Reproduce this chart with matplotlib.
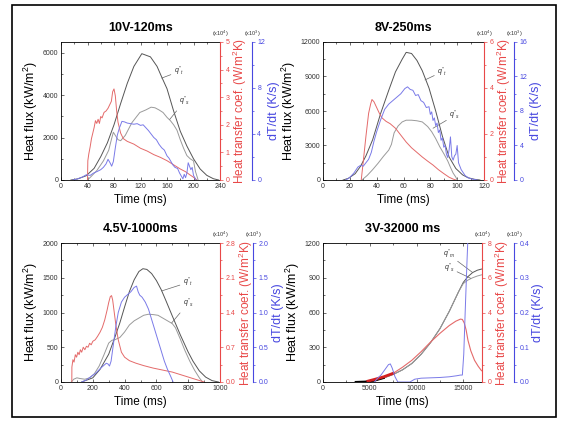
import matplotlib
matplotlib.use("Agg")
import matplotlib.pyplot as plt
from matplotlib.patches import Rectangle
from matplotlib.ticker import AutoMinorLocator

plt.rcParams["font.family"] = ["Liberation Sans", "DejaVu Sans"]
plt.rcParams["mathtext.fontset"] = "custom"
plt.rcParams["mathtext.rm"] = "Liberation Sans"
plt.rcParams["mathtext.it"] = "Liberation Sans:italic"

RED = "#e84848"
BLUE = "#4848e0"
C_RED = "#e46a6a"
C_BLUE = "#7a7ae8"
C_QT = "#555555"
C_QS = "#9a9a9a"

# ---- 10V-120ms ----
V10_QT_X = [15, 25, 38, 50, 60, 70, 80, 90, 100, 110, 122, 135, 145, 152, 160, 170, 180, 190, 200, 210, 220, 230, 238]
V10_QT_Y = [0, 50, 200, 550, 1100, 1750, 2600, 3600, 4550, 5350, 5950, 5800, 5350, 4850, 4300, 3250, 2300, 1600, 1000, 520, 220, 60, 0]
V10_QS_X = [40, 45, 54, 64, 72, 76, 79, 82, 86, 90, 97, 107, 119, 128, 136, 142, 148, 154, 160, 165, 170, 175, 180, 185, 190, 195, 200, 203, 207]
V10_QS_Y = [0, 150, 440, 900, 1400, 1900, 2250, 2100, 1900, 1850, 2100, 2700, 3180, 3300, 3430, 3400, 3300, 3180, 2950, 2800, 2600, 2350, 1900, 1500, 1150, 1000, 900, 400, 0]
V10_H_X = [40, 40.5, 42, 44, 46, 48, 50, 52, 54, 56, 58, 60, 62, 65, 68, 71, 74, 76, 78, 80, 82, 84, 86, 90, 94, 100, 110, 120, 130, 140, 150, 160, 170, 180, 188, 195, 200, 205]
V10_H_Y = [0, 0.7, 0.95, 1.2, 1.5, 1.7, 1.9, 2.15, 2.05, 2.2, 2.05, 2.3, 2.25, 2.45, 2.5, 2.6, 2.75, 2.85, 3.2, 3.3, 3.05, 2.5, 2.1, 1.7, 1.5, 1.4, 1.3, 1.15, 1.05, 0.92, 0.82, 0.7, 0.55, 0.4, 0.3, 0.18, 0.1, 0]
V10_B_X = [18, 25, 32, 38, 44, 49, 55, 60, 64, 68, 71, 74, 76.5, 79, 82, 85, 88, 92, 96, 100, 105, 110, 115, 120, 124, 128, 132, 136, 140, 144, 148, 152, 156, 160, 163, 166, 169, 172, 176, 179, 182, 184, 186, 188, 190, 192, 194, 196, 198, 200, 202, 204]
V10_B_Y = [0, 0.1, 0.25, 0.45, 0.4, 0.6, 0.75, 0.9, 1.1, 1.4, 1.8, 1.5, 1.2, 1.6, 2.8, 3.9, 4.5, 5.1, 5.05, 4.95, 4.9, 4.85, 4.9, 4.75, 4.8, 4.55, 4.3, 4.0, 3.7, 3.5, 3.1, 2.8, 2.6, 2.1, 1.9, 1.6, 1.3, 1.1, 1.0, 0.6, 0.3, 0.1, 0.5, 0.2, 0.6, 1.5, 1.2, 0.9, 1.1, 0.4, 0.2, 0]

# ---- 8V-250ms ----
V8_QT_X = [15, 19, 24, 28, 32, 37, 43, 49, 54, 59, 62, 66, 70, 74, 79, 84, 89, 94, 99, 104, 108, 113, 117]
V8_QT_Y = [0, 150, 550, 1200, 2100, 3500, 5800, 7800, 9400, 10500, 11100, 11000, 10400, 9500, 8000, 6000, 3800, 2000, 1000, 450, 200, 60, 0]
V8_QS_X = [29, 33, 37, 41, 45, 49, 51, 53, 56, 59, 62, 66, 70, 74, 78, 81, 84, 87, 90, 93, 95, 97, 99, 100]
V8_QS_Y = [0, 400, 900, 1450, 2050, 2600, 3100, 4100, 4700, 5050, 5200, 5200, 5150, 5050, 4650, 4200, 3600, 2900, 2300, 1650, 1100, 600, 250, 0]
V8_H_X = [28.5, 30, 32, 34, 35.5, 36.5, 38, 40, 42, 44, 47, 50, 54, 58, 62, 66, 70, 74, 78, 82, 86, 90, 94, 97, 99]
V8_H_Y = [0, 0.8, 1.9, 2.9, 3.3, 3.5, 3.4, 3.15, 2.9, 2.7, 2.55, 2.45, 2.25, 1.95, 1.65, 1.4, 1.2, 1.0, 0.82, 0.65, 0.45, 0.28, 0.12, 0.04, 0]
V8_B_X = [17, 20, 23, 26, 28, 30, 32, 34, 36, 38, 40, 43, 46, 49, 52, 55, 58, 61, 63, 65, 67, 69, 71, 73, 75, 77, 79, 80, 81, 82, 83, 84, 85, 86, 87, 88, 89, 90, 91, 92, 93, 94, 95, 96, 97, 98, 99, 100, 101, 103, 106, 109, 112, 115]
V8_B_Y = [0, 0.3, 0.8, 1.5, 1.7, 1.6, 2.0, 2.4, 3.2, 4.5, 5.6, 7.0, 8.2, 8.8, 9.2, 9.6, 10.0, 10.6, 10.8, 10.5, 10.4, 9.8, 9.9, 9.2, 9.0, 8.4, 8.5, 7.6, 7.9, 6.9, 7.2, 6.3, 6.6, 5.5, 5.8, 4.6, 4.9, 3.8, 4.0, 3.0, 2.6, 3.5, 5.0, 2.7, 2.3, 2.8, 3.0, 4.0, 2.0, 1.2, 0.5, 0.2, 0.08, 0]

# ---- 4.5V-1000ms ----
V45_QT_X = [130, 200, 245, 300, 340, 370, 400, 430, 460, 490, 515, 540, 570, 600, 630, 660, 700, 750, 800, 830, 870, 910, 950, 990]
V45_QT_Y = [0, 60, 180, 400, 650, 850, 1080, 1300, 1470, 1590, 1630, 1620, 1560, 1460, 1330, 1170, 950, 680, 430, 300, 160, 70, 20, 0]
V45_QS_X = [65, 80, 100, 120, 150, 180, 210, 240, 270, 300, 320, 340, 370, 400, 430, 460, 490, 520, 550, 580, 610, 640, 670, 700, 720, 750, 780, 810, 840, 870, 890]
V45_QS_Y = [0, 40, 60, 50, 40, 60, 120, 230, 390, 560, 600, 610, 640, 720, 820, 880, 920, 960, 975, 970, 960, 920, 880, 840, 780, 620, 450, 300, 170, 60, 0]
V45_H_X = [68, 68.5, 75, 82, 90, 98, 106, 114, 122, 130, 140, 150, 160, 170, 180, 190, 200, 215, 230, 245, 260, 275, 290, 300, 310, 318, 325, 335, 345, 360, 380, 400, 430, 470, 520, 580, 640, 700, 760, 820, 870, 900]
V45_H_Y = [0, 0.3, 0.45, 0.4, 0.55, 0.5, 0.6, 0.55, 0.65, 0.6, 0.7, 0.65, 0.72, 0.7, 0.78, 0.75, 0.82, 0.85, 0.92, 1.0, 1.1, 1.25, 1.45, 1.6, 1.72, 1.74, 1.65, 1.4, 1.15, 0.85, 0.6, 0.5, 0.43, 0.38, 0.33, 0.28, 0.24, 0.2, 0.14, 0.08, 0.03, 0]
V45_B_X = [130, 160, 190, 220, 250, 270, 285, 295, 305, 315, 330, 345, 360, 380, 400, 420, 440, 460, 475, 485, 495, 510, 530, 550, 570, 590, 610, 630, 650, 670, 690, 705]
V45_B_Y = [0, 0.03, 0.08, 0.13, 0.2, 0.24, 0.27, 0.26, 0.23, 0.3, 0.55, 0.8, 1.0, 1.15, 1.22, 1.26, 1.3, 1.36, 1.38, 1.3, 1.25, 1.22, 1.15, 1.05, 0.9, 0.75, 0.6, 0.45, 0.3, 0.18, 0.08, 0]

# ---- 3V-32000 ms ----
V3_QM_X = [3500, 4500, 5500, 6500, 7500, 8500, 9500, 10500, 11500, 12500, 13500, 14500, 15000, 15500, 16000, 16500, 16950]
V3_QM_Y = [0, 3, 12, 35, 65, 105, 160, 240, 340, 460, 610, 780, 860, 910, 945, 965, 975]
V3_QS_X = [3500, 4500, 5500, 6500, 7500, 8500, 9500, 10500, 11500, 12500, 13500, 14500, 15000, 15500, 16000, 16500, 16950]
V3_QS_Y = [0, 3, 12, 35, 65, 105, 160, 240, 340, 460, 610, 780, 850, 880, 900, 915, 925]
V3_H_X = [4800, 5500, 6500, 7500, 8500, 9500, 10500, 11500, 12500, 13500, 14200, 14700, 14900, 15100, 15300, 15500, 15800, 16200, 16600, 16950]
V3_H_Y = [0.05, 0.15, 0.3, 0.5, 0.85, 1.25, 1.75, 2.3, 2.8, 3.25, 3.5, 3.62, 3.6, 3.4, 3.0, 2.4, 1.8, 1.25, 0.9, 0.65]
V3_B_X = [5500, 5800, 6200, 6600, 7000, 7200, 7400, 7700, 8000, 8300, 9300, 9800, 10500, 11500, 12500, 13500, 14300, 14700, 14900, 15050, 15200, 15400, 15550]
V3_B_Y = [0, 0.01, 0.02, 0.035, 0.05, 0.052, 0.04, 0.015, 0.0, 0.0, 0.0, 0.008, 0.011, 0.012, 0.013, 0.015, 0.018, 0.02, 0.02, 0.08, 0.2, 0.35, 0.45]


def make_panel(fig, rect, title, xlim, xticks, ylim, yticks, hlim, hticks, hfmt,
               blim, bticks, bfmt, boff):
    ax = fig.add_axes(rect)
    ax.set_xlim(*xlim)
    ax.set_ylim(*ylim)
    ax.set_xticks(xticks)
    ax.set_yticks(yticks)
    ax.xaxis.set_minor_locator(AutoMinorLocator(2))
    ax.yaxis.set_minor_locator(AutoMinorLocator(2))
    ax.tick_params(which="both", direction="in", top=True, right=False,
                   labelsize=5, colors="#333333", pad=2)
    ax.tick_params(which="major", length=2.5, width=0.5)
    ax.tick_params(which="minor", length=1.5, width=0.5)
    ax.spines["right"].set_visible(False)
    for s in ["left", "top", "bottom"]:
        ax.spines[s].set_linewidth(0.6)
    ax.set_title(title, fontsize=9, fontweight="bold", pad=8)
    ax.set_xlabel("Time (ms)", fontsize=8.5, labelpad=3)
    ax.set_ylabel("Heat flux (kW/m$^2$)", fontsize=9, labelpad=2)

    axr = ax.twinx()
    axr.set_ylim(*hlim)
    axr.set_yticks(hticks)
    axr.set_yticklabels([hfmt.format(t) for t in hticks])
    axr.yaxis.set_minor_locator(AutoMinorLocator(2))
    for s in ["left", "top", "bottom"]:
        axr.spines[s].set_visible(False)
    axr.spines["right"].set_color(RED)
    axr.spines["right"].set_linewidth(0.8)
    axr.tick_params(which="both", direction="out", colors=RED, labelsize=5, pad=1.5)
    axr.tick_params(which="major", length=2.5, width=0.5)
    axr.tick_params(which="minor", length=1.5, width=0.5)
    axr.set_ylabel("Heat transfer coef. (W/m$^2$K)", fontsize=8.5, color=RED, labelpad=1)

    axb = ax.twinx()
    axb.set_ylim(*blim)
    axb.set_yticks(bticks)
    axb.set_yticklabels([bfmt.format(t) for t in bticks])
    axb.yaxis.set_minor_locator(AutoMinorLocator(2))
    axb.spines["right"].set_position(("axes", boff))
    for s in ["left", "top", "bottom"]:
        axb.spines[s].set_visible(False)
    axb.spines["right"].set_color(BLUE)
    axb.spines["right"].set_linewidth(0.8)
    axb.tick_params(which="both", direction="out", colors=BLUE, labelsize=5, pad=1.5)
    axb.tick_params(which="major", length=2.5, width=0.5)
    axb.tick_params(which="minor", length=1.5, width=0.5)
    axb.set_ylabel("dT/dt (K/s)", fontsize=9, color=BLUE, labelpad=2)

    ax.text(1.0, 1.025, "(x10$^4$)", transform=ax.transAxes, fontsize=4,
            ha="center", va="bottom", color="#333333")
    ax.text(boff, 1.025, "(x10$^3$)", transform=ax.transAxes, fontsize=4,
            ha="center", va="bottom", color="#333333")
    return ax, axr, axb


def label(ax, text, xy, xytext):
    ax.annotate(text, xy=xy, xytext=xytext, fontsize=5, color="#333333",
                ha="left", va="center",
                arrowprops=dict(arrowstyle="-", color="#666666", lw=0.5,
                                shrinkA=0, shrinkB=0))


fig = plt.figure(figsize=(5.69, 4.22), dpi=100)
fig.add_artist(Rectangle((12 / 569, 1 - 417 / 422), 544 / 569, 412 / 422,
                         transform=fig.transFigure, fill=False,
                         edgecolor="black", linewidth=1.2))

W = 159 / 569
H_TOP = 138 / 422
H_BOT = 139 / 422

# panel 1
ax, axr, axb = make_panel(fig, [61 / 569, 1 - 180 / 422, W, H_TOP], "10V-120ms",
                          (0, 240), range(0, 241, 40), (0, 6500), range(0, 6001, 2000),
                          (0, 5), range(0, 6), "{:d}",
                          (0, 12), range(0, 13, 4), "{:d}", 1.2)
ax.plot(V10_QT_X, V10_QT_Y, color=C_QT, lw=0.7)
ax.plot(V10_QS_X, V10_QS_Y, color=C_QS, lw=0.7)
axr.plot(V10_H_X, V10_H_Y, color=C_RED, lw=0.7)
axb.plot(V10_B_X, V10_B_Y, color=C_BLUE, lw=0.7)
label(ax, "$q''_t$", (152, 4800), (170, 5100))
label(ax, "$q''_s$", (164, 2850), (178, 3700))

# panel 2
ax, axr, axb = make_panel(fig, [323 / 569, 1 - 180 / 422, 161 / 569, H_TOP], "8V-250ms",
                          (0, 120), range(0, 121, 20), (0, 12000), range(0, 12001, 3000),
                          (0, 6), range(0, 7, 2), "{:d}",
                          (0, 16), range(0, 17, 4), "{:d}", 1.186)
ax.plot(V8_QT_X, V8_QT_Y, color=C_QT, lw=0.7)
ax.plot(V8_QS_X, V8_QS_Y, color=C_QS, lw=0.7)
axr.plot(V8_H_X, V8_H_Y, color=C_RED, lw=0.7)
axb.plot(V8_B_X, V8_B_Y, color=C_BLUE, lw=0.7)
label(ax, "$q''_t$", (76, 8700), (85, 9400))
label(ax, "$q''_s$", (82, 4500), (94, 5600))

# panel 3
ax, axr, axb = make_panel(fig, [61 / 569, 1 - 382 / 422, W, H_BOT], "4.5V-1000ms",
                          (0, 1000), range(0, 1001, 200), (0, 2000), range(0, 2001, 500),
                          (0, 2.8), [0, 0.7, 1.4, 2.1, 2.8], "{:.1f}",
                          (0, 2.0), [0, 0.5, 1.0, 1.5, 2.0], "{:.1f}", 1.21)
ax.plot(V45_QT_X, V45_QT_Y, color=C_QT, lw=0.7)
ax.plot(V45_QS_X, V45_QS_Y, color=C_QS, lw=0.7)
axr.plot(V45_H_X, V45_H_Y, color=C_RED, lw=0.7)
axb.plot(V45_B_X, V45_B_Y, color=C_BLUE, lw=0.7)
label(ax, "$q''_t$", (633, 1310), (765, 1430))
label(ax, "$q''_s$", (696, 850), (765, 1130))

# panel 4
ax, axr, axb = make_panel(fig, [323 / 569, 1 - 382 / 422, W, H_BOT], "3V-32000 ms",
                          (0, 17000), range(0, 15001, 5000), (0, 1200), range(0, 1201, 300),
                          (0, 8), range(0, 9, 2), "{:d}",
                          (0, 0.4), [0, 0.1, 0.2, 0.3, 0.4], "{:.1f}", 1.2)
ax.plot(V3_QM_X, V3_QM_Y, color=C_QT, lw=0.7)
ax.plot(V3_QS_X, V3_QS_Y, color=C_QS, lw=0.7)
ax.plot(V3_QM_X[:4], V3_QM_Y[:4], color="black", lw=1.5)
axr.plot(V3_H_X, V3_H_Y, color=C_RED, lw=0.8)
axr.plot(V3_H_X[:4], V3_H_Y[:4], color="#d42020", lw=2.0)
axb.plot(V3_B_X, V3_B_Y, color=C_BLUE, lw=0.7)
label(ax, "$q''_m$", (16000, 945), (12800, 1100))
label(ax, "$q''_s$", (15800, 895), (12900, 985))

fig.savefig("out.png", dpi=100)
